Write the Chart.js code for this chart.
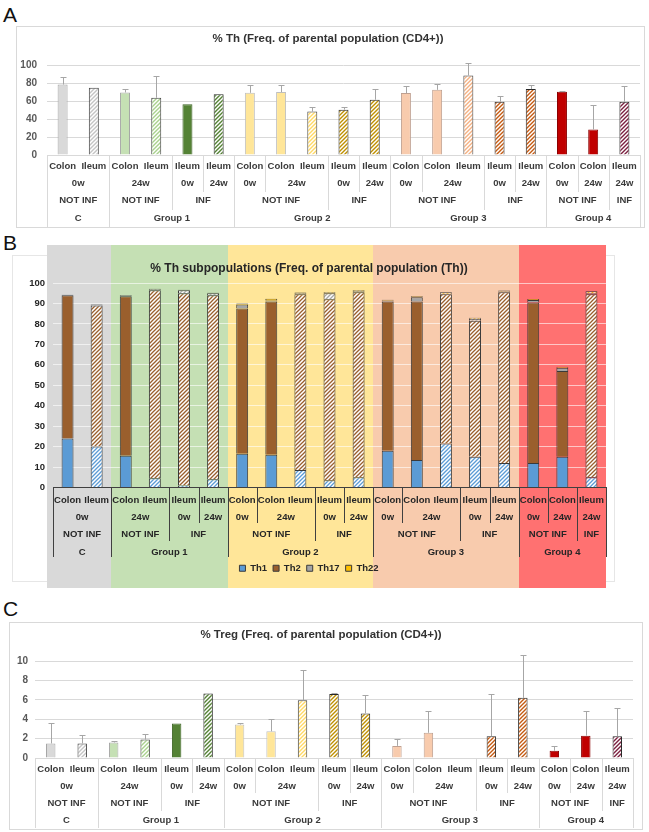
<!DOCTYPE html>
<html><head><meta charset="utf-8">
<script src="https://cdn.jsdelivr.net/npm/chart.js@4.4.1/dist/chart.umd.min.js"></script>
<style>
html,body{margin:0;padding:0;background:#fff;width:649px;height:832px;overflow:hidden;font-family:"Liberation Sans",Arial,sans-serif;}
.box{position:absolute;border:1px solid #d9d9d9;box-sizing:border-box;}
canvas{position:absolute;}
.lbl{position:absolute;font-size:21px;line-height:1;color:#111;}
</style></head><body>
<div class="lbl" style="left:3px;top:4px">A</div>
<div class="box" style="left:16px;top:26px;width:629px;height:202px"></div>
<canvas id="cA" width="628" height="201" style="left:16px;top:27px"></canvas>
<div class="lbl" style="left:3px;top:232px">B</div>
<div class="box" style="left:12px;top:255px;width:603px;height:327px;border-color:#e6e6e6"></div>
<canvas id="cB" width="604" height="345" style="left:12px;top:245px"></canvas>
<div class="lbl" style="left:3px;top:598px">C</div>
<div class="box" style="left:9px;top:622px;width:634px;height:208px"></div>
<canvas id="cC" width="634" height="208" style="left:9px;top:622px"></canvas>
<script>
// ---- categories (4 levels) ----
const tissues = ['Colon','Ileum','Colon','Ileum','Ileum','Ileum','Colon','Colon','Ileum','Ileum','Ileum','Colon','Colon','Ileum','Ileum','Ileum','Colon','Colon','Ileum'];
const weeks   = ['0w','0w','24w','24w','0w','24w','0w','24w','24w','0w','24w','0w','24w','24w','0w','24w','0w','24w','24w'];
const status  = ['NOT INF','NOT INF','NOT INF','NOT INF','INF','INF','NOT INF','NOT INF','NOT INF','INF','INF','NOT INF','NOT INF','NOT INF','INF','INF','NOT INF','NOT INF','INF'];
const groups  = ['C','C','Group 1','Group 1','Group 1','Group 1','Group 2','Group 2','Group 2','Group 2','Group 2','Group 3','Group 3','Group 3','Group 3','Group 3','Group 4','Group 4','Group 4'];

// ---- panel A: % Th ----
const thFreq    = [78.3, 74.6, 69.5, 63.6, 56.3, 67.6, 69.1, 69.9, 48.2, 50.4, 61.4, 68.8, 72.4, 88.2, 59.2, 73.2, 70.2, 28.3, 59.2];
const thFreqErr = [8.8, 0, 3.7, 24.3, 0, 0, 8.5, 7.7, 5.1, 2.5, 12.1, 7.7, 6.6, 13.6, 6.2, 4.4, 0.8, 26.8, 17.3];

// ---- panel B: Th subpopulations ----
const seriesNames = ['Th1','Th2','Th17','Th22'];
const th1  = [24, 20, 15.5, 4.5, 1, 4, 16.5, 16, 8.5, 3.5, 5, 18, 13.5, 21.5, 15, 12, 12, 15, 5];
const th2  = [70, 69, 78, 92, 94, 90, 71, 75, 86, 88.5, 90.5, 73, 77.5, 73, 66.5, 83.5, 78.5, 42, 89.5];
const th17 = [0.3, 0.5, 0.5, 0.5, 1.5, 1, 2, 0.5, 0.5, 3, 0.5, 0.5, 2, 0.3, 1, 0.3, 1.2, 1.5, 0.5];
const th22 = [0, 0, 0, 0.2, 0.2, 0.2, 0.5, 0.8, 0.3, 0.5, 0.5, 0.3, 0.5, 0.7, 0.5, 0.5, 0.5, 0.5, 1];

// ---- panel C: % Treg ----
const tregFreq    = [1.5, 1.5, 1.6, 1.9, 3.55, 6.65, 3.45, 2.75, 5.95, 6.6, 4.6, 1.25, 2.6, null, 2.25, 6.2, 0.75, 2.3, 2.25];
const tregFreqErr = [2.15, 0.9, 0.2, 0.6, 0, 0, 0.2, 1.25, 3.1, 0.05, 1.85, 0.7, 2.2, 0, 4.35, 4.45, 0.45, 2.5, 2.95];

// ---- styles ----
const FONT = '"Liberation Sans", Arial, sans-serif';
Chart.defaults.font.family = FONT;

function hatch(color, size = 4, lw = 1.4, bg = '#ffffff') {
  const c = document.createElement('canvas'); c.width = size; c.height = size;
  const g = c.getContext('2d');
  g.fillStyle = bg; g.fillRect(0, 0, size, size);
  g.strokeStyle = color; g.lineWidth = lw;
  g.beginPath();
  g.moveTo(-1, size + 1); g.lineTo(size + 1, -1);
  g.moveTo(-size / 2 - 1, size / 2 + 1); g.lineTo(size / 2 + 1, -size / 2 - 1);
  g.moveTo(size / 2 - 1, size * 1.5 + 1); g.lineTo(size * 1.5 + 1, size / 2 - 1);
  g.stroke();
  return g.createPattern(c, 'repeat');
}

const catFill = ['#d9d9d9', hatch('#c4c4c4'), '#c5e0b4', hatch('#a9d18e'), '#548235', hatch('#548235'),
  '#ffe699', '#ffe699', hatch('#ffd966'), hatch('#bf9000'), hatch('#bf9000'),
  '#f8cbad', '#f8cbad', hatch('#f4b183'), hatch('#c55a11'), hatch('#c55a11'),
  '#c00000', '#c00000', hatch('#7b1f3f')];
const catBorder = ['#a6a6a6', '#404040', '#a6a6a6', '#404040', '#3d6326', '#262626',
  '#bfbfbf', '#bfbfbf', '#404040', '#262626', '#262626',
  '#bfa090', '#bfa090', '#404040', '#262626', '#262626',
  '#8b0000', '#8b0000', '#262626'];
const groupBgColors = {'C': '#d9d9d9', 'Group 1': '#c5e0b4', 'Group 2': '#ffe699', 'Group 3': '#f8cbad', 'Group 4': '#ff7171'};
const subColors = ['#5b9bd5', '#9a5f2d', '#a5a5a5', '#ffc000'];

// ---- plugins ----
function makeErrorBars(errors, color) {
  return { id: 'errorBars', afterDatasetsDraw(chart) {
    const ctx = chart.ctx, meta = chart.getDatasetMeta(0), y = chart.scales.y;
    const vals = chart.data.datasets[0].data;
    ctx.save(); ctx.strokeStyle = color; ctx.lineWidth = 1;
    errors.forEach((e, i) => {
      if (!e || vals[i] == null) return;
      const el = meta.data[i]; const cx = Math.round(el.x) + 0.5;
      const yTop = Math.round(y.getPixelForValue(vals[i] + e)) + 0.5;
      ctx.beginPath(); ctx.moveTo(cx, el.y); ctx.lineTo(cx, yTop);
      ctx.moveTo(cx - 3, yTop); ctx.lineTo(cx + 3, yTop); ctx.stroke();
    });
    ctx.restore();
  }};
}
function makeMultiLevel(cfg) {
  return { id: 'multiLevel', afterDraw(chart) {
    const ctx = chart.ctx, x = chart.scales.x, n = tissues.length;
    const w = (x.right - x.left) / n, y0 = Math.round(x.top);
    const levels = [tissues, weeks, status, groups];
    const key = (L, i) => levels.slice(L).map(a => a[i]).join('|');
    ctx.save(); ctx.font = cfg.font; ctx.fillStyle = cfg.textColor;
    ctx.textAlign = 'center'; ctx.textBaseline = 'middle';
    ctx.strokeStyle = cfg.lineColor; ctx.lineWidth = 1;
    for (let L = 0; L < 4; L++) {
      let s = 0;
      for (let i = 1; i <= n; i++) {
        if (i === n || L === 0 || key(L, i) !== key(L, s)) {
          const x0 = x.left + s * w, x1 = x.left + i * w;
          ctx.fillText(levels[L][s], (x0 + x1) / 2, y0 + cfg.rows[L]);
          if (L > 0) {
            [x0, x1].forEach(xx => {
              const px = Math.round(xx) + 0.5;
              ctx.beginPath(); ctx.moveTo(px, y0); ctx.lineTo(px, y0 + cfg.ends[L]); ctx.stroke();
            });
          }
          s = i;
        }
      }
    }
    ctx.restore();
  }};
}
const groupBg = { id: 'groupBg', beforeDraw(chart) {
  const ctx = chart.ctx, x = chart.scales.x, n = groups.length, w = (x.right - x.left) / n;
  let s = 0;
  for (let i = 1; i <= n; i++) {
    if (i === n || groups[i] !== groups[s]) {
      const x0 = s === 0 ? x.left - 6 : x.left + s * w;
      const x1 = x.left + i * w;
      ctx.fillStyle = groupBgColors[groups[s]];
      ctx.fillRect(Math.round(x0), 0, Math.round(x1) - Math.round(x0), 343);
      s = i;
    }
  }
}};

function simpleBar(id, values, errors, o) {
  return new Chart(document.getElementById(id), {
    type: 'bar',
    data: { labels: tissues, datasets: [{ data: values, backgroundColor: catFill, borderColor: catBorder,
      borderWidth: 1, barPercentage: o.barPct, categoryPercentage: 1 }] },
    options: {
      responsive: false, animation: false, devicePixelRatio: 1,
      layout: { padding: { left: 0, right: o.padRight, top: 0, bottom: 0 } },
      plugins: {
        legend: { display: false }, tooltip: { enabled: false },
        title: { display: true, text: o.title, color: '#333333', font: { size: 11.5, weight: 'bold' },
          padding: { top: o.titleTop, bottom: o.titleBottom } }
      },
      scales: {
        x: { grid: { display: false }, border: { display: true, color: '#d9d9d9' }, ticks: { display: false },
          afterFit: s => { s.height = o.xh; } },
        y: { min: 0, max: o.max, ticks: { stepSize: o.step, padding: o.tickPad, color: '#595959', font: { size: 10, weight: 'bold' } },
          grid: { color: '#d9d9d9', drawTicks: false }, border: { display: false },
          afterFit: s => { s.width = o.yw; } }
      }
    },
    plugins: [makeErrorBars(errors, '#a6a6a6'),
      makeMultiLevel({ rows: o.rows, ends: o.ends, font: 'bold 9.5px ' + FONT, textColor: '#3a3a3a', lineColor: '#d9d9d9' })]
  });
}

simpleBar('cA', thFreq, thFreqErr, { title: '% Th (Freq. of parental population (CD4+))', max: 100, step: 20,
  barPct: 0.32, padRight: 4, yw: 31, tickPad: 10, xh: 73, titleTop: 5, titleBottom: 19.2,
  rows: [11, 28, 45, 63], ends: [0, 37, 55, 72] });

simpleBar('cC', tregFreq, tregFreqErr, { title: '% Treg (Freq. of parental population (CD4+))', max: 10, step: 2,
  barPct: 0.3, padRight: 10, yw: 26, tickPad: 7, xh: 72, titleTop: 6, titleBottom: 19.2,
  rows: [11, 28, 45, 62], ends: [0, 35, 53, 70] });

const subData = [th1, th2, th17, th22];
new Chart(document.getElementById('cB'), {
  type: 'bar',
  data: { labels: tissues, datasets: subData.map((d, k) => ({
    label: seriesNames[k], data: d,
    backgroundColor: tissues.map(t => t === 'Ileum' ? hatch(subColors[k], 4, 1.3) : subColors[k]),
    borderColor: '#3a3a3a', borderWidth: 1, barPercentage: 0.41, categoryPercentage: 1 })) },
  options: {
    responsive: false, animation: false, devicePixelRatio: 1,
    layout: { padding: { left: 0, right: 10, top: 0, bottom: 7 } },
    plugins: {
      tooltip: { enabled: false },
      title: { display: true, text: '% Th subpopulations (Freq. of parental population (Th))', color: '#262626',
        font: { size: 12, weight: 'bold' }, padding: { top: 16, bottom: 7.6 } },
      legend: { position: 'bottom', labels: { boxWidth: 6, boxHeight: 6, padding: 6, color: '#262626',
        font: { size: 9.5, weight: 'bold' } } }
    },
    scales: {
      x: { stacked: true, grid: { display: false }, border: { display: true, color: '#404040' }, ticks: { display: false },
        afterFit: s => { s.height = 70; } },
      y: { stacked: true, min: 0, max: 100, ticks: { stepSize: 10, padding: 8, color: '#262626', font: { size: 9.5, weight: 'bold' } },
        grid: { color: 'rgba(255,255,255,0.6)', drawTicks: false }, border: { display: false },
        afterFit: s => { s.width = 41; } }
    }
  },
  plugins: [groupBg, makeMultiLevel({ rows: [12, 29, 46, 64], ends: [0, 35, 53, 69], font: 'bold 9.5px ' + FONT, textColor: '#262626', lineColor: '#404040' })]
});
</script>
</body></html>
